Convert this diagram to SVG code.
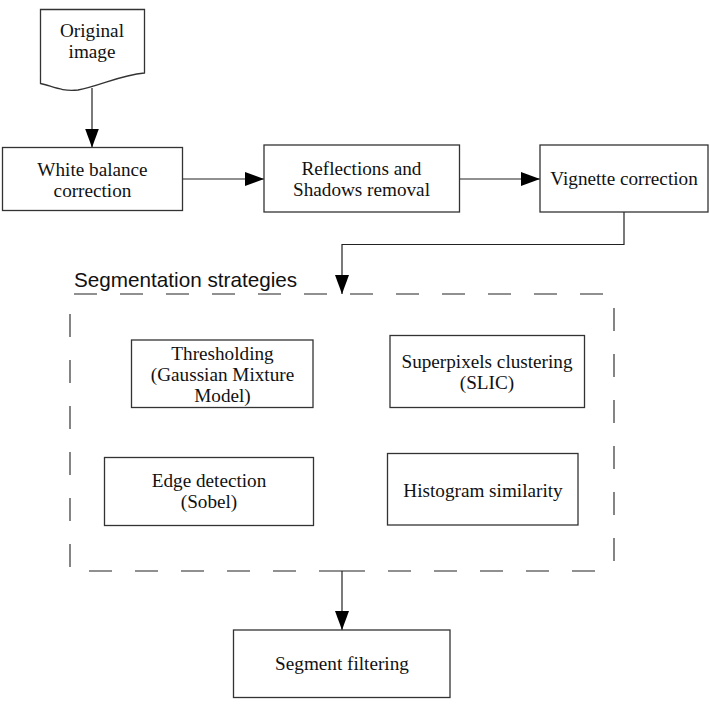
<svg xmlns="http://www.w3.org/2000/svg" width="710" height="707" viewBox="0 0 710 707">
<style>
.box{fill:#fff;stroke:#333;stroke-width:1.3}
.t{font-family:"Liberation Serif","Times New Roman",serif;font-size:19.2px;fill:#111;text-anchor:middle}
.conn{fill:none;stroke:#222;stroke-width:1.2}
.dash{fill:none;stroke:#222;stroke-width:1.1;stroke-dasharray:23 23}
</style>
<defs>
<marker id="ah" markerUnits="userSpaceOnUse" markerWidth="19" markerHeight="14" refX="19" refY="7" orient="auto">
<path d="M0,0 L19,7 L0,14 Z" fill="#000"/>
</marker>
</defs>
<rect width="710" height="707" fill="#fff"/>

<g id="container">
<line class="dash" x1="70" y1="294" x2="614" y2="294" stroke-dashoffset="42"/>
<line class="dash" x1="614" y1="294" x2="614" y2="571" stroke-dashoffset="32"/>
<line class="dash" x1="70" y1="294" x2="70" y2="571" stroke-dashoffset="26"/>
<line class="dash" x1="342" y1="571" x2="70" y2="571"/>
<line class="dash" x1="342" y1="571" x2="614" y2="571"/>
<text x="74" y="286.7" style="font-family:'Liberation Sans',Arial,sans-serif;font-size:20.7px;fill:#111">Segmentation strategies</text>
</g>

<g id="connectors">
<line class="conn" x1="92" y1="88" x2="92" y2="147.5" marker-end="url(#ah)"/>
<line class="conn" x1="182.5" y1="179" x2="264" y2="179" marker-end="url(#ah)"/>
<line class="conn" x1="459.5" y1="179" x2="540" y2="179" marker-end="url(#ah)"/>
<polyline class="conn" points="624,212 624,244.5 342,244.5 342,294" marker-end="url(#ah)"/>
<line class="conn" x1="342" y1="571" x2="342" y2="630" marker-end="url(#ah)"/>
</g>

<g id="original-image">
<path class="box" d="M40.5,9.5 H144.5 V73 C120,75 100,86 78,90 C62,92 52,86 40.5,83.5 Z"/>
<text class="t" x="92" y="37">Original</text>
<text class="t" x="92" y="57.5">image</text>
</g>

<g id="white-balance">
<rect class="box" x="2.5" y="147.5" width="180" height="63"/>
<text class="t" x="92.5" y="175.5">White balance</text>
<text class="t" x="92.5" y="196.5">correction</text>
</g>

<g id="reflections">
<rect class="box" x="264" y="145" width="195.5" height="67"/>
<text class="t" x="361.5" y="175">Reflections and</text>
<text class="t" x="361.5" y="195.5">Shadows removal</text>
</g>

<g id="vignette">
<rect class="box" x="540" y="145" width="168" height="67"/>
<text class="t" x="624" y="185">Vignette correction</text>
</g>

<g id="thresholding">
<rect class="box" x="131.5" y="340" width="181.5" height="67.5"/>
<text class="t" x="222.5" y="359.5">Thresholding</text>
<text class="t" x="222.5" y="380.5">(Gaussian Mixture</text>
<text class="t" x="222.5" y="401.5">Model)</text>
</g>

<g id="superpixels">
<rect class="box" x="390" y="335.5" width="194.5" height="72"/>
<text class="t" x="487" y="367.5">Superpixels clustering</text>
<text class="t" x="487" y="388.5">(SLIC)</text>
</g>

<g id="edge-detection">
<rect class="box" x="104.5" y="457.5" width="209" height="68"/>
<text class="t" x="209" y="487">Edge detection</text>
<text class="t" x="209" y="508">(Sobel)</text>
</g>

<g id="histogram">
<rect class="box" x="387.5" y="453.5" width="190.5" height="71.5"/>
<text class="t" x="483" y="496.5">Histogram similarity</text>
</g>

<g id="segment-filtering">
<rect class="box" x="233.5" y="630" width="216.5" height="67.5"/>
<text class="t" x="342" y="670">Segment filtering</text>
</g>
</svg>
